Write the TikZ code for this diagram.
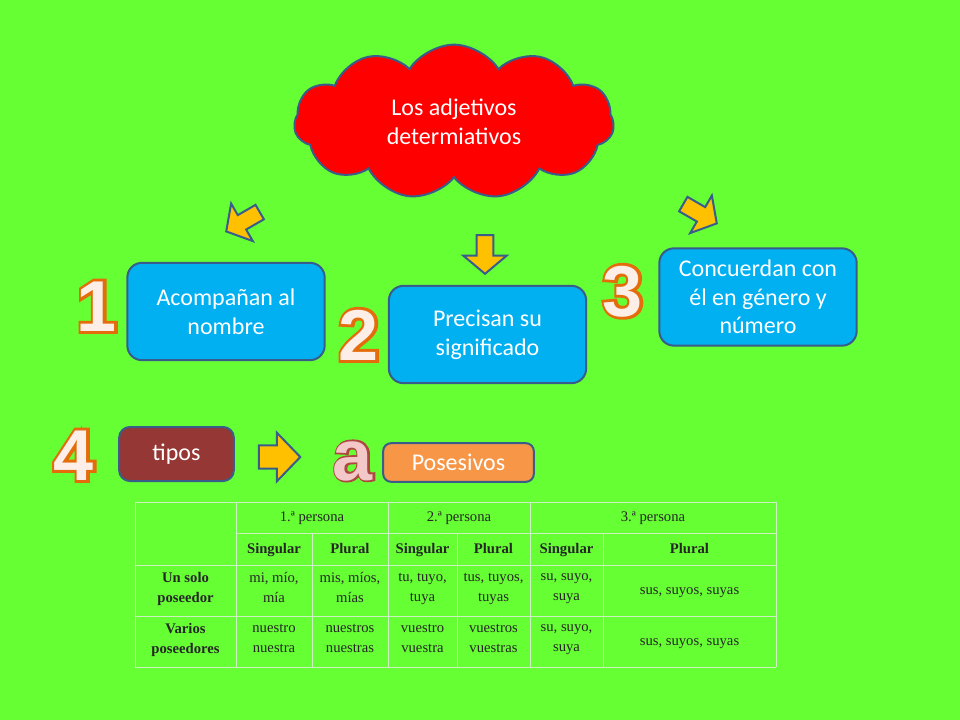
\documentclass[tikz,border=0pt]{standalone}
\usepackage{fontspec}
\setmainfont{Carlito}
\newfontfamily\tabfont{Liberation Serif}
\newfontfamily\numfont{Liberation Sans}
\newfontfamily\numfat[FakeBold=8]{Liberation Sans}
\newfontfamily\letterfat[FakeBold=5]{Liberation Sans}
\usepackage{xcolor}
\usepackage{tikz}
\usetikzlibrary{shapes,arrows}
\usetikzlibrary{positioning}
\definecolor{bggreen}{RGB}{102,255,51}
\definecolor{edgeblue}{RGB}{56,93,138}
\definecolor{boxblue}{RGB}{0,176,240}
\definecolor{cloudred}{RGB}{255,0,0}
\definecolor{arrowyellow}{RGB}{255,192,0}
\definecolor{tiposred}{RGB}{149,55,53}
\definecolor{posorange}{RGB}{247,150,70}
\definecolor{numorange}{RGB}{228,108,10}
\definecolor{numfill}{RGB}{253,238,232}
\definecolor{afill}{RGB}{242,200,200}
\definecolor{aedge}{RGB}{175,70,65}
\definecolor{gridcol}{RGB}{205,240,195}
\tikzstyle{box} = [draw=edgeblue, line width=1.5pt, rounded corners=11pt,
fill=boxblue, text=white, align=center, minimum width=148pt,
minimum height=73pt, font=\fontsize{18}{21.5}\selectfont]
\tikzstyle{blockarrow} = [single arrow, draw=edgeblue, line width=1.5pt,
fill=arrowyellow, inner xsep=0pt, inner ysep=5.5pt, minimum height=29pt,
single arrow head extend=10pt, single arrow tip angle=100]

\begin{document}
\begin{tikzpicture}[x=0.75pt, y=-0.75pt,
  topcloud/.style={cloud, cloud puffs=11, cloud puff arc=115, aspect=2.1,
  draw=edgeblue, line width=1.5pt, fill=cloudred, text=white, align=center,
  minimum width=240pt, minimum height=116pt, font=\fontsize{18}{22}\selectfont},
  num/.style={font=\numfont\bfseries\fontsize{54}{54}\selectfont, anchor=base,
  inner sep=0pt, text=numfill},
  numedge/.style={font=\numfat\bfseries\fontsize{54}{54}\selectfont, anchor=base,
  inner sep=0pt, text=numorange},
  cell/.style={font=\tabfont\fontsize{11}{15}\selectfont, align=center,
  text=black!85, inner sep=0pt, execute at begin node=\strut,
  execute at end node=\strut},
  tabline/.style={draw=gridcol, line width=0.75pt}]
  \fill [bggreen] (0,0) rectangle (960,720);
  %% The cloud
  \node [topcloud] (top) at (454,122) {Los adjetivos\\determiativos};
  %% Arrows
  \node [blockarrow, rotate=210] (A_1) at (246,220) {};
  \node [blockarrow, rotate=-90] (A_2) at (485,251) {};
  \node [blockarrow, rotate=-30] (A_3) at (697,212) {};
  \node [blockarrow, minimum height=31pt, inner ysep=8pt,
  single arrow head extend=9.5pt, single arrow tip angle=92] (A_4) at (274,457) {};
  %% Boxes
  \node [box] (B_1) at (226,311.5) {Acompañan al\\nombre};
  \node [box] (B_2) at (487.5,334.5) {Precisan su\\significado};
  \node [box] (B_3) at (758,297) {Concuerdan con\\él en género y\\número};
  \node [box, fill=tiposred, minimum width=86pt, minimum height=40.5pt,
  rounded corners=8pt] (T) at (176.5,454) {tipos};
  \node [box, fill=posorange, minimum width=113pt, minimum height=29pt,
  rounded corners=6pt] (P) at (458.5,462.5) {Posesivos};
  %% Numbers
  \node [numedge] (N_1e) at (97,331) {1};
  \node [num] (N_1) at (97,331) {1};
  \node [numedge] (N_2e) at (359,360) {2};
  \node [num] (N_2) at (359,360) {2};
  \node [numedge] (N_3e) at (623,316) {3};
  \node [num] (N_3) at (623,316) {3};
  \node [numedge] (N_4e) at (74,480) {4};
  \node [num] (N_4) at (74,480) {4};
  \node [numedge, font=\letterfat\bfseries\fontsize{54}{54}\selectfont,
  text=aedge] (N_ae) at (353,480) {a};
  \node [num, text=afill] (N_a) at (353,480) {a};
  %% The table
  \draw [tabline] (135,502) -- (776,502);
  \draw [tabline] (236,533) -- (776,533);
  \draw [tabline] (135,565) -- (776,565);
  \draw [tabline] (135,616) -- (776,616);
  \draw [tabline] (135,667) -- (776,667);
  \draw [tabline] (135,502) -- (135,667);
  \draw [tabline] (236,502) -- (236,667);
  \draw [tabline] (388,502) -- (388,667);
  \draw [tabline] (530,502) -- (530,667);
  \draw [tabline] (776,502) -- (776,667);
  \draw [tabline] (312,533) -- (312,667);
  \draw [tabline] (457,533) -- (457,667);
  \draw [tabline] (603,533) -- (603,667);
  %%
  \node [cell] (H_1) at (312,517.5) {1.ª persona};
  \node [cell] (H_2) at (459,517.5) {2.ª persona};
  \node [cell] (H_3) at (653,517.5) {3.ª persona};
  \node [cell] (S_1) at (274,549) {\bfseries Singular};
  \node [cell] (P_1) at (350,549) {\bfseries Plural};
  \node [cell] (S_2) at (422.5,549) {\bfseries Singular};
  \node [cell] (P_2) at (493.5,549) {\bfseries Plural};
  \node [cell] (S_3) at (566.5,549) {\bfseries Singular};
  \node [cell] (P_3) at (689.5,549) {\bfseries Plural};
  %%
  \node [cell] (R1_0) at (185.5,590.5) {\bfseries Un solo\\\bfseries poseedor};
  \node [cell] (R1_1) at (274,590.5) {mi, mío,\\mía};
  \node [cell] (R1_2) at (350,590.5) {mis, míos,\\mías};
  \node [cell] (R1_3) at (422.5,590.5) {tu, tuyo,\\tuya};
  \node [cell] (R1_4) at (493.5,590.5) {tus, tuyos,\\tuyas};
  \node [cell] (R1_5) at (566.5,590.5) {su, suyo,\\suya};
  \node [cell] (R1_6) at (689.5,590.5) {sus, suyos, suyas};
  %%
  \node [cell] (R2_0) at (185.5,641.5) {\bfseries Varios\\\bfseries poseedores};
  \node [cell] (R2_1) at (274,641.5) {nuestro\\nuestra};
  \node [cell] (R2_2) at (350,641.5) {nuestros\\nuestras};
  \node [cell] (R2_3) at (422.5,641.5) {vuestro\\vuestra};
  \node [cell] (R2_4) at (493.5,641.5) {vuestros\\vuestras};
  \node [cell] (R2_5) at (566.5,641.5) {su, suyo,\\suya};
  \node [cell] (R2_6) at (689.5,641.5) {sus, suyos, suyas};
\end{tikzpicture}
\end{document}
